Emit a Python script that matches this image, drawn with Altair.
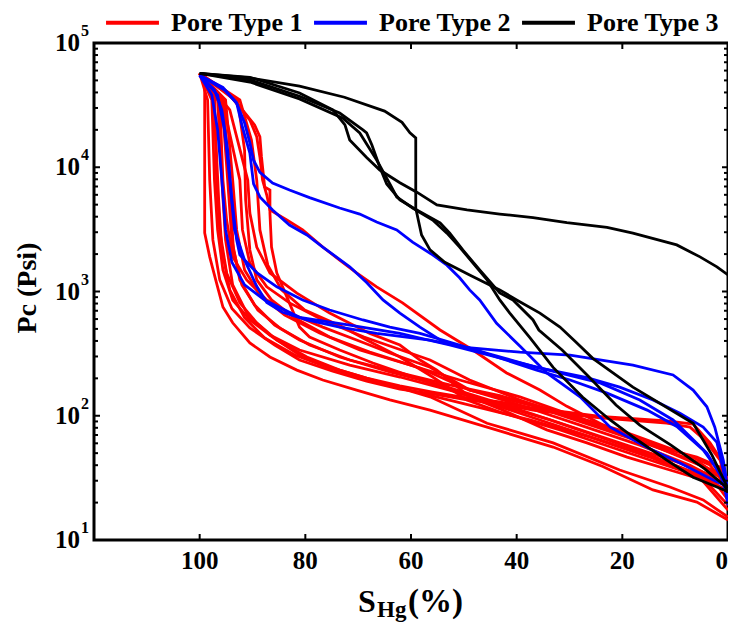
import altair as alt
import pandas as pd

# ---------------- data (S_Hg in %, Pc in psi) ----------------
TYPES = ["Pore Type 1", "Pore Type 2", "Pore Type 3"]
COLORS = ["#ff0000", "#0000ff", "#000000"]

RED_01 = [(100,57000),(99.05,50400),(99.05,2960),(98.1,1900),(96.8,1170),(95.6,750),(93.75,560),(90.5,385),(86.7,297),(81.6,233),(76.7,194),(70.3,161),(64.0,134),(56.4,111),(45.6,81),(33.1,56),(23.7,39),(14.2,25.3),(5.9,20.2),(0,14.5)]
RED_02 = [(100,57000),(97.2,38100),(96.8,7890),(96.2,3130),(94.9,1410),(92.4,810),(89.2,560),(85.4,407),(79.7,297),(73.5,233),(67.2,194),(56.4,142),(45.6,87),(33.1,60.5),(20.5,36.6),(11.0,26.7),(4.7,21),(0,15.3)]
RED_03 = [(100,57000),(96.2,34800),(95.6,7890),(94.9,3760),(93.75,1900),(91.1,1240),(87.3,855),(83.0,670),(76.7,517),(70.3,407),(64.0,320),(56.4,246),(48.9,161),(39.4,122),(28.0,84),(16.7,58),(7.2,40),(0,27.7)]
RED_04 = [(100,57000),(95.3,28900),(92.4,7890),(91.9,3130),(90.5,1690),(87.3,1090),(83.0,810),(76.7,590),(68.9,430),(56.4,281),(48.9,194),(39.4,134),(28.0,92.5),(16.7,63.8),(5.3,40),(0,29.3)]
RED_05 = [(100,57000),(94.3,28900),(90.9,7890),(90.5,4280),(89.2,2280),(86.7,1410),(81.6,970),(75.4,670),(67.8,460),(62.1,371),(58.3,281),(55.1,233),(48.9,142),(42.6,111),(34.3,77),(26.7,60.5),(19.1,46.5),(11.0,36.6),(4.7,30.4),(0,25.3)]
RED_06 = [(100,57000),(93.4,34800),(89.6,21900),(88.6,17600),(88.3,12100),(87.7,6940),(86.7,6560),(86.7,4280),(86.4,2280),(85.4,1410),(83.5,905),(81.1,517),(79.2,430),(73.5,338),(67.2,266),(56.4,184),(47.0,134),(35.6,92.5),(24.2,63.8),(12.9,44),(5.3,33.3),(0,24.5)]
RED_07 = [(100,57000),(94.3,38100),(90.5,24000),(89.2,17600),(88.6,12100),(88.1,7890),(87.3,5980),(86.7,4530),(83.5,3760),(80.5,3130),(76.7,2280),(73.5,1790),(70.3,1410),(66.5,1090),(61.6,810),(54.5,490),(48.3,338),(41.9,221),(35.6,161),(30.5,119),(21.8,76.8),(16.7,63.8),(11.0,53),(5.9,46.5),(1.5,38.6),(0,30.4)]
RED_08 = [(100,57000),(97.7,34800),(97.2,7890),(96.6,3130),(95.6,1490),(93.75,855),(90.5,590),(86.2,430),(81.1,308),(74.8,242),(68.4,201),(62.1,174),(55.9,155),(49.4,139),(43.2,129),(36.9,115),(30.5,107),(24.2,99),(11.6,90.8),(6.6,85.8),(3.4,60.5),(0.9,41.7),(0,22.2)]
RED_09 = [(100,57000),(98.5,34800),(98.1,7890),(97.5,2600),(96.2,1240),(93.9,730),(90.5,510),(85.8,371),(81.1,281),(74.8,228),(68.4,190),(62.1,164),(55.9,150),(49.4,134),(43.2,124),(36.9,111),(30.5,103),(24.2,96),(11.6,87.4),(7.2,81),(4.4,63.8),(1.5,44),(0,25.3)]
RED_10 = [(100,57000),(95.8,34800),(94.7,7890),(93.9,2600),(92.4,1240),(89.6,778),(85.8,537),(81.1,407),(73.5,297),(64.0,225),(54.5,177),(43.2,126),(31.8,87.4),(20.5,60.5),(9.1,41.7),(3.4,33.3),(0,21)]
RED_11 = [(100,57000),(96.6,34800),(95.8,7890),(95.1,2600),(93.75,1130),(90.9,647),(86.7,446),(81.1,338),(71.6,256),(62.1,205),(52.7,161),(43.2,122),(33.7,92.5),(24.2,67.3),(14.8,48.3),(5.3,33.3),(0,19.1)]
RED_12 = [(100,57000),(95.1,34800),(93.75,7890),(93.0,3130),(91.5,1490),(88.6,937),(83.9,647),(77.3,464),(69.7,338),(60.2,256),(50.8,194),(39.4,142),(28.0,96),(16.7,63.8),(7.2,44),(0,31.6)]
RED_13 = [(100,57000),(92.4,34800),(90.2,16560),(89.2,7890),(88.6,3130),(87.1,1630),(84.5,1030),(80.1,710),(72.9,517),(68.4,407),(62.1,297),(55.9,205),(49.4,134),(43.2,107),(31.8,76.8),(20.5,53),(9.1,36.6),(0,27.7)]
RED_14 = [(100,57000),(97.3,34800),(96.4,5450),(95.8,2160),(94.3,1030),(91.5,615),(87.7,422),(82.0,308),(75.4,242),(67.8,194),(58.3,153),(48.9,122),(37.5,92.5),(26.1,67.3),(14.8,46.5),(5.3,31.6),(0,17.4)]
RED_15 = [(100,57000),(95.5,34800),(94.3,6560),(93.6,2160),(92.0,1130),(89.0,710),(84.8,507),(79.2,371),(71.6,281),(62.1,221),(52.7,177),(43.2,145),(31.8,107),(20.5,76.8),(9.1,51),(3.4,40.1),(0,26.2)]
RED_16 = [(100,57000),(92.8,34800),(91.5,13770),(91.3,5450),(90.5,2160),(89.2,1240),(86.4,855),(82.0,612),(75.4,430),(67.8,326),(58.3,242),(48.9,161),(37.5,122),(26.1,84.3),(14.8,58.2),(5.3,41.7),(0,29.3)]

BLUE_1 = [(100,55000),(95.6,44000),(93.0,32900),(91.5,22700),(90.5,15700),(89.8,11400),(88.6,9100),(86.2,7460),(83.0,6560),(79.2,5700),(73.5,4700),(69.7,4200),(66.5,3620),(62.7,3130),(59.7,2500),(55.9,1970),(53.2,1630),(50.8,1290),(48.9,1030),(47.0,855),(43.8,555),(39.4,364),(34.3,221),(28.0,142),(22.3,81),(15.3,55.5),(9.1,41.7),(2.8,30.4),(0,26.7)]
BLUE_2 = [(100,55000),(95.3,41900),(93.0,32900),(91.9,21000),(90.5,13000),(89.8,7340),(88.6,5770),(86.2,4530),(83.0,3430),(79.7,2850),(76.7,2280),(71.6,1580),(68.4,1180),(65.3,855),(62.1,670),(58.3,517),(54.5,407),(50.2,356),(39.4,325),(29.9,308),(18.0,256),(10.4,213),(6.6,161),(4.0,118),(2.5,81),(0.9,44),(0,25.3)]
BLUE_3 = [(100,55000),(97.2,41900),(95.8,28900),(94.7,13770),(93.9,5450),(93.0,2600),(92.4,1970),(89.2,1420),(85.4,1090),(80.5,855),(75.4,710),(69.1,590),(64.0,517),(58.3,460),(52.1,385),(45.6,318),(36.2,245),(26.7,203),(20.5,170),(14.2,134),(9.1,105),(4.7,81),(2.1,61),(0.9,36.6),(0,23)]
BLUE_4 = [(100,55000),(96.6,38100),(95.3,19950),(94.3,7890),(93.4,3130),(91.5,1790),(89.2,1100),(87.3,815),(84.3,680),(79.7,590),(73.5,517),(66.5,460),(56.4,407),(48.9,350),(36.2,233),(29.9,194),(22.9,152),(15.3,111),(9.7,82),(4.7,53),(1.5,34.5),(0,21)]
BLUE_5 = [(100,55000),(97.7,38100),(96.6,19950),(95.8,7890),(95.1,3130),(93.9,1720),(91.5,1130),(87.7,855),(81.1,620),(71.6,537),(62.1,460),(52.7,371),(43.2,292),(31.3,218),(24.2,184),(16.7,134),(10.4,92.5),(4.0,50),(0.9,30.4),(0,19.1)]

BLACK_1 = [(100,57000),(90.5,52300),(81.1,45000),(72.6,36600),(65.0,28300),(61.7,23000),(60.2,18900),(59.1,17200),(59.1,4700),(58.7,3900),(58.0,2850),(56.4,2160),(53.6,1720),(48.9,1360),(43.2,1030),(40.0,855),(35.6,670),(31.8,517),(28.6,385),(25.6,290),(18.0,170),(6.6,87),(3.0,48),(0,26)]
BLACK_2 = [(100,57000),(90.5,53000),(81.1,39600),(74.8,28900),(72.5,21900),(71.6,16560),(68.4,12000),(65.9,9500),(62.1,7500),(58.9,6300),(55.1,4970),(49.4,4530),(43.2,4200),(36.9,3930),(30.5,3590),(22.9,3280),(18.0,2950),(9.7,2370),(5.3,1900),(2.1,1580),(0,1360)]
BLACK_3 = [(100,57000),(90.5,50400),(81.1,37300),(73.5,27300),(69.1,19950),(68.4,18900),(67.4,15100),(65.9,10000),(64.6,7340),(62.1,5450),(58.9,4530),(54.5,3560),(52.7,2960),(50.2,2160),(47.0,1490),(43.2,975),(40.7,855),(36.9,590),(35.8,490),(31.4,338),(26.3,205),(21.2,122),(16.7,84),(10.8,58),(4.4,37.3),(0.6,27.2),(0,24)]
BLACK_4 = [(100,57000),(90.5,48500),(81.1,35500),(72.9,24800),(69.7,18900),(66.5,11440),(64.0,7340),(62.7,5770),(59.7,4700),(55.9,3760),(53.2,2950),(50.8,2280),(48.3,1700),(45.6,1240),(43.2,855),(41.3,670),(37.5,425),(33.1,245),(27.5,141),(22.3,92.5),(18.0,67.5),(11.6,44),(6.6,32),(2.1,26.7),(0,24.5)]

RED_CURVES = [RED_01, RED_02, RED_03, RED_04, RED_05, RED_06, RED_07, RED_08,
              RED_09, RED_10, RED_11, RED_12, RED_13, RED_14, RED_15, RED_16]
BLUE_CURVES = [BLUE_1, BLUE_2, BLUE_3, BLUE_4, BLUE_5]
BLACK_CURVES = [BLACK_1, BLACK_2, BLACK_3, BLACK_4]

X_TICKS = [0, 20, 40, 60, 80, 100]
X_LABELS = ["0", "20", "40", "60", "80", "100"]
DECADES = [10, 100, 1000, 10000, 100000]
DECADE_BASE = ["10", "10", "10", "10", "10"]
DECADE_EXP = ["1", "2", "3", "4", "5"]
MINOR = [m * d for d in [10, 100, 1000, 10000] for m in range(2, 10)]

X_TITLE = ["S", "Hg", "(%)"]
Y_TITLE = "Pc (Psi)"

# ---------------- build table ----------------
rows = []
for ptype, curves in zip(TYPES, [RED_CURVES, BLUE_CURVES, BLACK_CURVES]):
    for ci, curve in enumerate(curves):
        for k, (s, p) in enumerate(curve):
            rows.append({"S": s, "Pc": p, "type": ptype, "curve": f"{ptype}-{ci}", "k": k})
df = pd.DataFrame(rows)

W, H = 634, 497
FONT = "Liberation Serif"
xscale = alt.Scale(domain=[0, 120], reverse=True, nice=False, zero=False)
yscale = alt.Scale(type="log", domain=[10, 100000], nice=False)
cscale = alt.Scale(domain=TYPES, range=COLORS)

legend = alt.Legend(orient="none", legendX=10, legendY=-49, direction="horizontal", title=None,
                    symbolType="stroke", symbolSize=2800, symbolStrokeWidth=4,
                    labelFont=FONT, labelFontSize=26, labelFontWeight="bold", labelColor="black",
                    labelOffset=10, columnPadding=3, padding=0, labelLimit=400)


def lines(ptype):
    return alt.Chart(df).transform_filter(alt.datum.type == ptype).mark_line(
        strokeWidth=2.8, clip=True).encode(
        x=alt.X("S:Q", scale=xscale, axis=None),
        y=alt.Y("Pc:Q", scale=yscale, axis=None),
        color=alt.Color("type:N", scale=cscale, legend=legend),
        detail="curve:N",
        order="k:Q",
    )


xt = pd.DataFrame({"S": X_TICKS, "lab": X_LABELS})
x_bot = alt.Chart(xt).mark_rule(color="black", strokeWidth=2).encode(
    x=alt.X("S:Q", scale=xscale, axis=None), y=alt.value(H), y2=alt.value(H - 6))
x_top = alt.Chart(xt).mark_rule(color="black", strokeWidth=2).encode(
    x=alt.X("S:Q", scale=xscale, axis=None), y=alt.value(0), y2=alt.value(6))
xlab_mid = alt.Chart(xt).transform_filter(alt.datum.S > 0).mark_text(
    align="center", baseline="alphabetic", font=FONT, fontSize=25,
    fontWeight="bold", color="black").encode(
    x=alt.X("S:Q", scale=xscale, axis=None), y=alt.value(H + 29), text="lab:N")
# the label at the right edge is kept inside the page
xlab_end = alt.Chart(xt).transform_filter(alt.datum.S == 0).mark_text(
    align="right", baseline="alphabetic", font=FONT, fontSize=25,
    fontWeight="bold", color="black").encode(
    x=alt.X("S:Q", scale=xscale, axis=None), y=alt.value(H + 29), text="lab:N")

ymaj = pd.DataFrame({"Pc": DECADES, "base": DECADE_BASE, "exp": DECADE_EXP})
ymin = pd.DataFrame({"Pc": MINOR})


def yticks(data, x0, x1):
    return alt.Chart(data).mark_rule(color="black", strokeWidth=2).encode(
        y=alt.Y("Pc:Q", scale=yscale, axis=None), x=alt.value(x0), x2=alt.value(x1))


ylab = alt.Chart(ymaj).mark_text(align="right", baseline="middle", font=FONT, fontSize=25,
                                 fontWeight="bold", color="black").encode(
    y=alt.Y("Pc:Q", scale=yscale, axis=None), x=alt.value(-14), text="base:N")
yexp = alt.Chart(ymaj).mark_text(align="left", baseline="middle", font=FONT, fontSize=16,
                                 fontWeight="bold", color="black", dy=-12).encode(
    y=alt.Y("Pc:Q", scale=yscale, axis=None), x=alt.value(-13), text="exp:N")

tS = alt.Chart(pd.DataFrame({"t": [X_TITLE[0]]})).mark_text(
    align="left", baseline="alphabetic", font=FONT, fontSize=32, fontWeight="bold", color="black").encode(
    x=alt.value(264), y=alt.value(569), text="t:N")
tHg = alt.Chart(pd.DataFrame({"t": [X_TITLE[1]]})).mark_text(
    align="left", baseline="alphabetic", font=FONT, fontSize=23, fontWeight="bold", color="black").encode(
    x=alt.value(283), y=alt.value(574), text="t:N")
tPct = alt.Chart(pd.DataFrame({"t": [X_TITLE[2]]})).mark_text(
    align="left", baseline="alphabetic", font=FONT, fontSize=33, fontWeight="bold", color="black").encode(
    x=alt.value(314), y=alt.value(569), text="t:N")
tY = alt.Chart(pd.DataFrame({"t": [Y_TITLE]})).mark_text(
    align="center", baseline="middle", font=FONT, fontSize=28, fontWeight="bold", color="black",
    angle=270).encode(x=alt.value(-66), y=alt.value(245), text="t:N")

chart = alt.layer(
    lines(TYPES[0]), lines(TYPES[1]), lines(TYPES[2]),
    x_bot, x_top,
    yticks(ymaj, 0, 6), yticks(ymaj, W, W - 6),
    yticks(ymin, 0, 4), yticks(ymin, W, W - 4),
    xlab_mid, xlab_end, ylab, yexp, tS, tHg, tPct, tY,
).properties(
    width=W, height=H,
    autosize=alt.AutoSizeParams(type="none"),
    padding={"left": 86, "top": 35, "right": 0, "bottom": 82},
    background="white",
).configure_view(stroke="black", strokeWidth=3)

chart.save("out.html", embed_options={"renderer": "svg", "actions": False})
